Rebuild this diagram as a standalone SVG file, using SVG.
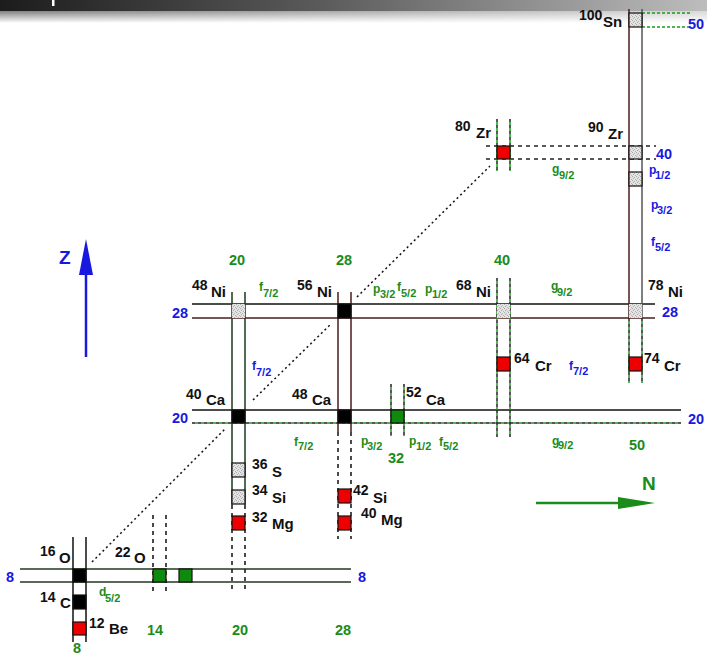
<svg xmlns="http://www.w3.org/2000/svg" width="707" height="655" viewBox="0 0 707 655">
<defs>
<linearGradient id="bar" x1="0" y1="0" x2="1" y2="0">
<stop offset="0" stop-color="#1c1c1c"/><stop offset="0.45" stop-color="#5a5a5a"/><stop offset="1" stop-color="#bdbdbd"/>
</linearGradient>
<linearGradient id="shade" x1="0" y1="0" x2="0" y2="1">
<stop offset="0" stop-color="#808080"/><stop offset="1" stop-color="#ffffff"/>
</linearGradient>
<linearGradient id="shadeH" x1="0" y1="0" x2="1" y2="0">
<stop offset="0" stop-color="#ffffff" stop-opacity="0"/><stop offset="1" stop-color="#ffffff" stop-opacity="0.7"/>
</linearGradient>
<pattern id="hatch" width="4" height="4" patternUnits="userSpaceOnUse">
<rect width="4" height="4" fill="#e4e4e4"/>
<rect x="0" y="0" width="1" height="1" fill="#a8a8a8"/>
<rect x="2" y="1" width="1" height="1" fill="#b4b4b4"/>
<rect x="1" y="2" width="1" height="1" fill="#a8a8a8"/>
<rect x="3" y="3" width="1" height="1" fill="#b4b4b4"/>
</pattern>
<style>
text{font-family:"Liberation Sans",Arial,Helvetica,sans-serif;font-weight:bold}
.m{font-size:14px;fill:#111}
.e{font-size:15px;fill:#111}
.bl{font-size:14.5px;fill:#1818e0}
.gn{font-size:14.5px;fill:#1a8c1a}
.og{fill:#1a8c1a}
.ob{fill:#1818e0}
.L{font-size:12px}
.S{font-size:11px}
.box{stroke:#111;stroke-width:1.2}
.blk{fill:#000}
.red{fill:#ee0000}
.grn{fill:#0f8a0f}
.hat{fill:url(#hatch)}
.sl{fill:none;stroke-width:1.5}
.dash{stroke-dasharray:4 4}
.kd{stroke:#222;stroke-dasharray:3 3}
.gd{stroke:#1a9a1a;stroke-dasharray:3 3;stroke-dashoffset:3}
.dot{fill:none;stroke:#111;stroke-width:1.5;stroke-dasharray:2 3}
</style>
</defs>

<!-- header bar -->
<rect x="0" y="0" width="707" height="11" fill="url(#bar)"/>
<rect x="0" y="11" width="707" height="12" fill="url(#shade)"/>
<rect x="0" y="11" width="707" height="12" fill="url(#shadeH)"/>
<rect x="52" y="0" width="2.5" height="6" fill="#ffffff"/>

<!-- shell lines -->
<g id="shells">
<line x1="20" y1="569" x2="351" y2="569" class="sl" stroke="#1f3a1f"/>
<line x1="20" y1="582" x2="351" y2="582" class="sl" stroke="#1f3a1f"/>
<line x1="192" y1="410" x2="681" y2="410" class="sl" stroke="#111"/>
<line x1="192" y1="423" x2="681" y2="423" class="sl kd"/>
<line x1="192" y1="423" x2="681" y2="423" class="sl gd"/>
<line x1="192" y1="304" x2="655" y2="304" class="sl" stroke="#111"/>
<line x1="192" y1="318" x2="655" y2="318" class="sl" stroke="#4a1c1c"/>
<line x1="486" y1="146" x2="656" y2="146" class="sl dash" stroke="#222"/>
<line x1="486" y1="159" x2="656" y2="159" class="sl dash" stroke="#222"/>
<line x1="642" y1="13" x2="690" y2="13" class="sl" stroke="#1a9a1a" stroke-dasharray="3 2"/>
<line x1="642" y1="27" x2="690" y2="27" class="sl" stroke="#1a9a1a" stroke-dasharray="3 2"/>

<line x1="73" y1="537" x2="73" y2="642" class="sl" stroke="#111"/>
<line x1="86" y1="537" x2="86" y2="642" class="sl" stroke="#111"/>
<line x1="153" y1="515" x2="153" y2="592" class="sl dash" stroke="#111"/>
<line x1="166" y1="515" x2="166" y2="592" class="sl dash" stroke="#111"/>
<line x1="232" y1="292" x2="232" y2="505" class="sl" stroke="#1a3a1a"/>
<line x1="245" y1="292" x2="245" y2="505" class="sl" stroke="#1a3a1a"/>
<line x1="232" y1="505" x2="232" y2="592" class="sl dash" stroke="#111"/>
<line x1="245" y1="505" x2="245" y2="592" class="sl dash" stroke="#111"/>
<line x1="338" y1="292" x2="338" y2="432" class="sl" stroke="#4a1c1c"/>
<line x1="351" y1="292" x2="351" y2="432" class="sl" stroke="#4a1c1c"/>
<line x1="338" y1="432" x2="338" y2="539" class="sl dash" stroke="#111"/>
<line x1="351" y1="432" x2="351" y2="539" class="sl dash" stroke="#111"/>
<line x1="391" y1="384" x2="391" y2="436" class="sl kd"/>
<line x1="391" y1="384" x2="391" y2="436" class="sl gd"/>
<line x1="404" y1="384" x2="404" y2="436" class="sl kd"/>
<line x1="404" y1="384" x2="404" y2="436" class="sl gd"/>
<line x1="497" y1="278" x2="497" y2="437" class="sl kd"/>
<line x1="497" y1="278" x2="497" y2="437" class="sl gd"/>
<line x1="510" y1="278" x2="510" y2="437" class="sl kd"/>
<line x1="510" y1="278" x2="510" y2="437" class="sl gd"/>
<line x1="497" y1="119" x2="497" y2="171" class="sl kd"/>
<line x1="497" y1="119" x2="497" y2="171" class="sl gd"/>
<line x1="510" y1="119" x2="510" y2="171" class="sl kd"/>
<line x1="510" y1="119" x2="510" y2="171" class="sl gd"/>
<line x1="629" y1="9" x2="629" y2="318" class="sl" stroke="#4a1c1c"/>
<line x1="642" y1="9" x2="642" y2="318" class="sl" stroke="#555"/>
<line x1="629" y1="318" x2="629" y2="383" class="sl kd"/>
<line x1="629" y1="318" x2="629" y2="383" class="sl gd"/>
<line x1="642" y1="318" x2="642" y2="383" class="sl kd"/>
<line x1="642" y1="318" x2="642" y2="383" class="sl gd"/>
</g>

<!-- diagonal connectors -->
<g id="connectors">
<line x1="92" y1="562" x2="226" y2="428" class="dot"/>
<line x1="253" y1="400" x2="331" y2="324" class="dot"/>
<line x1="357" y1="297" x2="490" y2="166" class="dot"/>
</g>

<!-- nuclei -->
<g id="O16"><rect x="73" y="569" width="13" height="13" class="box blk"/><text class="m" x="40" y="556">16</text><text class="e" x="59" y="563">O</text></g>
<g id="C14"><rect x="73" y="595" width="13" height="14" class="box blk"/><text class="m" x="40" y="602">14</text><text class="e" x="60" y="608">C</text></g>
<g id="Be12"><rect x="73" y="622" width="13" height="13" class="box red"/><text class="m" x="89" y="628">12</text><text class="e" x="109" y="634">Be</text></g>
<g id="O22"><rect x="153" y="569" width="13" height="13" class="box grn"/><text class="m" x="115" y="557">22</text><text class="e" x="134" y="563">O</text></g>
<g id="O24"><rect x="179" y="569" width="13" height="13" class="box grn"/></g>
<g id="Ca40"><rect x="232" y="410" width="13" height="13" class="box blk"/><text class="m" x="186" y="399">40</text><text class="e" x="206" y="405">Ca</text></g>
<g id="Ca48"><rect x="338" y="410" width="13" height="13" class="box blk"/><text class="m" x="292" y="399">48</text><text class="e" x="312" y="405">Ca</text></g>
<g id="Ca52"><rect x="391" y="410" width="13" height="13" class="box grn"/><text class="m" x="406" y="397">52</text><text class="e" x="426" y="405">Ca</text></g>
<g id="S36"><rect x="232" y="463" width="13" height="14" class="box hat"/><text class="m" x="252" y="469">36</text><text class="e" x="272" y="477">S</text></g>
<g id="Si34"><rect x="232" y="490" width="13" height="14" class="box hat"/><text class="m" x="252" y="495">34</text><text class="e" x="272" y="503">Si</text></g>
<g id="Mg32"><rect x="232" y="516" width="13" height="14" class="box red"/><text class="m" x="252" y="522">32</text><text class="e" x="272" y="529">Mg</text></g>
<g id="Si42"><rect x="338" y="489" width="13" height="14" class="box red"/><text class="m" x="353" y="495">42</text><text class="e" x="373" y="503">Si</text></g>
<g id="Mg40"><rect x="338" y="516" width="13" height="14" class="box red"/><text class="m" x="361" y="518">40</text><text class="e" x="381" y="525">Mg</text></g>
<g id="Ni48"><rect x="232" y="304" width="13" height="14" class="hat"/><text class="m" x="192" y="290">48</text><text class="e" x="211" y="297">Ni</text></g>
<g id="Ni56"><rect x="338" y="304" width="13" height="14" class="box blk"/><text class="m" x="297" y="290">56</text><text class="e" x="317" y="297">Ni</text></g>
<g id="Ni68"><rect x="497" y="304" width="13" height="14" class="hat"/><text class="m" x="456" y="290">68</text><text class="e" x="476" y="297">Ni</text></g>
<g id="Ni78"><rect x="629" y="304" width="13" height="14" class="hat"/><text class="m" x="648" y="290">78</text><text class="e" x="668" y="297">Ni</text></g>
<g id="Cr64"><rect x="497" y="357" width="13" height="14" class="box red"/><text class="m" x="514" y="363">64</text><text class="e" x="535" y="371">Cr</text></g>
<g id="Cr74"><rect x="629" y="357" width="13" height="14" class="box red"/><text class="m" x="644" y="363">74</text><text class="e" x="664" y="371">Cr</text></g>
<g id="Zr80"><rect x="497" y="146" width="13" height="13" class="box red"/><text class="m" x="455" y="131">80</text><text class="e" x="476" y="138">Zr</text></g>
<g id="Zr90"><rect x="629" y="146" width="13" height="13" class="box hat"/><rect x="629" y="172" width="13" height="14" class="box hat"/><text class="m" x="588" y="132">90</text><text class="e" x="608" y="139">Zr</text></g>
<g id="Sn100"><rect x="629" y="13" width="13" height="14" class="box hat"/><text class="m" x="579" y="20">100</text><text class="e" x="603" y="27">Sn</text></g>

<!-- magic numbers -->
<g id="magic">
<text class="bl" x="6" y="582">8</text>
<text class="bl" x="358" y="582">8</text>
<text class="bl" x="172" y="423">20</text>
<text class="bl" x="688" y="424">20</text>
<text class="bl" x="172" y="318">28</text>
<text class="bl" x="662" y="317">28</text>
<text class="bl" x="656" y="159">40</text>
<text class="bl" x="688" y="29">50</text>
<text class="gn" x="73" y="653">8</text>
<text class="gn" x="147" y="635">14</text>
<text class="gn" x="232" y="635">20</text>
<text class="gn" x="335" y="635">28</text>
<text class="gn" x="388" y="463">32</text>
<text class="gn" x="629" y="450">50</text>
<text class="gn" x="229" y="265">20</text>
<text class="gn" x="336" y="265">28</text>
<text class="gn" x="494" y="265">40</text>
</g>

<!-- orbitals -->
<g id="orbitals">
<text class="og L" x="259" y="291">f</text><text class="og S" x="263" y="297">7/2</text>
<text class="og L" x="373" y="293">p</text><text class="og S" x="380" y="298">3/2</text>
<text class="og L" x="397" y="291">f</text><text class="og S" x="401" y="297">5/2</text>
<text class="og L" x="425" y="293">p</text><text class="og S" x="432" y="298">1/2</text>
<text class="og L" x="551" y="290">g</text><text class="og S" x="557" y="296">9/2</text>
<text class="og L" x="552" y="173">g</text><text class="og S" x="559" y="179">9/2</text>
<text class="og L" x="294" y="446">f</text><text class="og S" x="298" y="450">7/2</text>
<text class="og L" x="361" y="445">p</text><text class="og S" x="367" y="450">3/2</text>
<text class="og L" x="409" y="445">p</text><text class="og S" x="416" y="450">1/2</text>
<text class="og L" x="439" y="446">f</text><text class="og S" x="443" y="450">5/2</text>
<text class="og L" x="552" y="445">g</text><text class="og S" x="558" y="449">9/2</text>
<text class="og L" x="99" y="596">d</text><text class="og S" x="105" y="602">5/2</text>
<text class="ob L" x="252" y="370">f</text><text class="ob S" x="256" y="376">7/2</text>
<text class="ob L" x="569" y="370">f</text><text class="ob S" x="573" y="375">7/2</text>
<text class="ob L" x="649" y="174">p</text><text class="ob S" x="655" y="179">1/2</text>
<text class="ob L" x="651" y="209">p</text><text class="ob S" x="657" y="214">3/2</text>
<text class="ob L" x="651" y="246">f</text><text class="ob S" x="655" y="251">5/2</text>
</g>

<!-- axes -->
<g id="axisZ">
<line x1="86" y1="357" x2="86" y2="270" stroke="#1818e0" stroke-width="2.5"/>
<polygon points="86,239 79,275 93,275" fill="#1818e0"/>
<text x="59" y="264" font-size="19" fill="#1818e0">Z</text>
</g>
<g id="axisN">
<line x1="536" y1="503" x2="622" y2="503" stroke="#1a8c1a" stroke-width="2.5"/>
<polygon points="655,503 618,497 618,509" fill="#1a8c1a"/>
<text x="642" y="490" font-size="19" fill="#1a8c1a">N</text>
</g>
</svg>
